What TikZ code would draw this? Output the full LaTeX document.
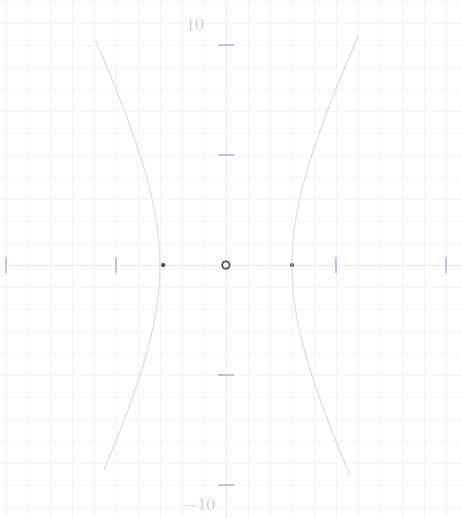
\documentclass[tikz,border=0pt]{standalone}
\usepackage{tikz}
\usetikzlibrary{calc}
\usetikzlibrary{positioning}

\begin{document}
\begin{tikzpicture}[x=0.4cm, y=0.4cm,
	gr/.style = {draw=gray!8, line width=0.3pt},
	ax/.style = {draw=gray!16, line width=0.4pt},
	tk/.style = {draw=blue!40!gray!35, line width=1pt},
	hb/.style = {draw=gray!25, line width=0.6pt},
	pt/.style = {circle, fill=black!70, inner sep=0pt, minimum size=2.2pt},
	ct/.style = {circle, draw=black!70, line width=0.8pt, inner sep=0pt, minimum size=4pt},
	lb/.style = {text=gray!40, font=\small}
	]
	
	\useasboundingbox (-10.27,-11.5) rectangle (10.73,12.05);
	
	% === === Paper === ===
	\draw[gr, step=0.4cm] (-10.27,-11.5) grid (10.73,12.05);
	
	% === === Axes === ===
	\coordinate (xl) at (-10.27, 0);
	\coordinate (xr) at (10.73, 0);
	\coordinate (yb) at (0, -11.5);
	\coordinate (yt) at (0, 12.05);
	\draw[ax]	(xl)	--	(xr);
	\draw[ax]	(yb)	--	(yt);
	
	\foreach \t in {-10, -5, 5, 10} {
		\draw[tk]	(\t, -0.35)	--	(\t, 0.35);
		\draw[tk]	(-0.35, \t)	--	(0.35, \t);
	}
	
	% === === Nodes === ===
	\node[ct]	(o)		at	(0, 0)		{};
	\node[pt]	(vl)	at	(-2.85, 0)	{};
	\node[pt]	(vr)	at	(3, 0)		{};
	
	\node[lb]	(top)	at	(-1.4, 10.9)	{10};
	\node[lb]	(bot)	at	(-1.2, -10.95)	{$-10$};
	
	% === === Curves === ===
	\draw[hb]	plot[domain=-9.3:10.2, samples=60]	({-3*sqrt(1+(\x/6)^2)}, \x);
	\draw[hb]	plot[domain=-9.5:10.45, samples=60]	({3*sqrt(1+(\x/6)^2)}, \x);
	
\end{tikzpicture}
\end{document}
